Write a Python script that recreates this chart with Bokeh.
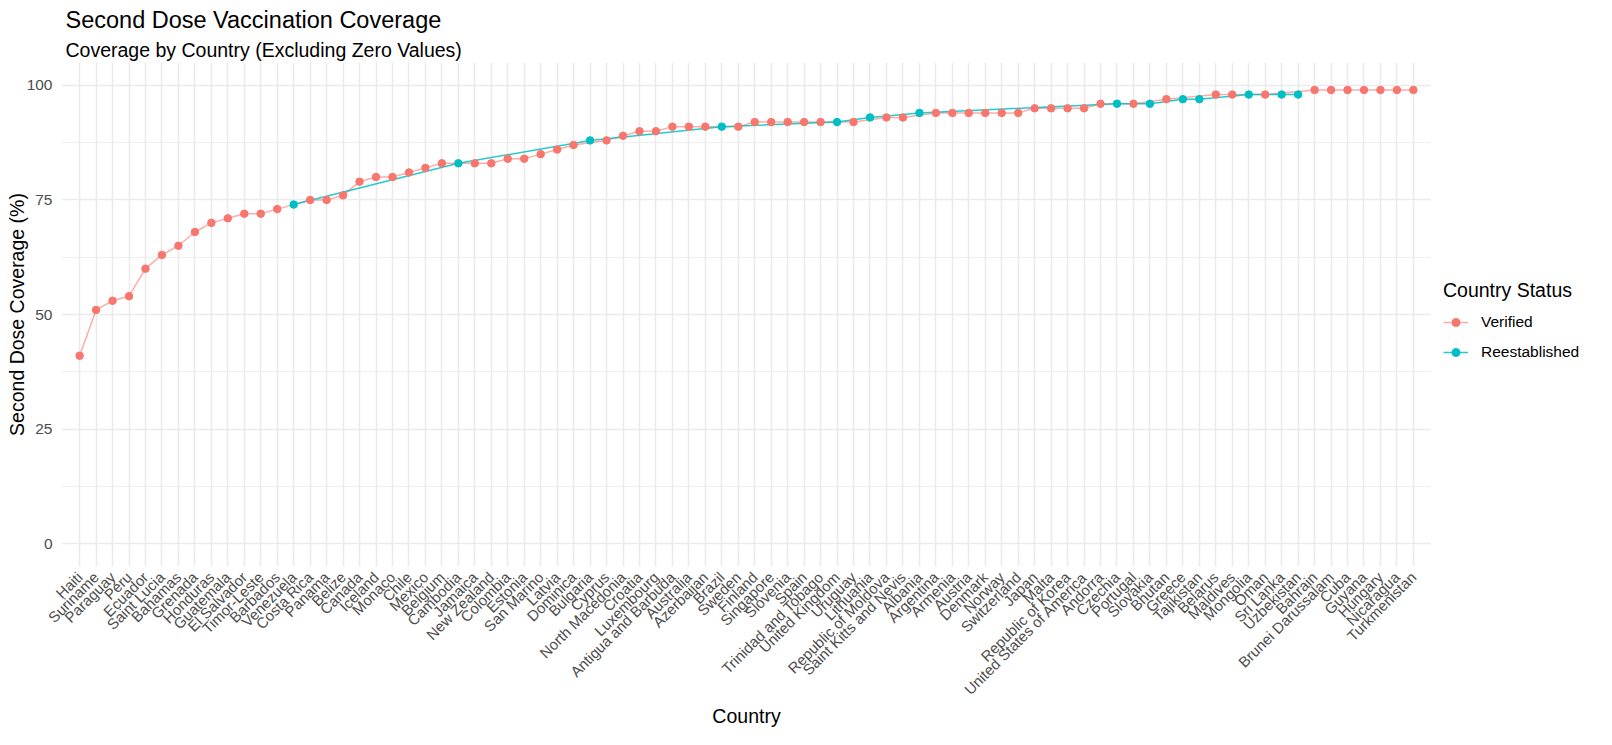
import math
from bokeh.plotting import figure
from bokeh.layouts import row
from bokeh.models import (FactorRange, Range1d, FixedTicker, Legend, LegendItem,
                          Title, ColumnDataSource)
from bokeh.embed import file_html
from bokeh.resources import INLINE

countries = [
    "Haiti", "Suriname", "Paraguay", "Peru", "Ecuador", "Saint Lucia", "Bahamas",
    "Grenada", "Honduras", "Guatemala", "El Salvador", "Timor-Leste", "Barbados",
    "Venezuela", "Costa Rica", "Panama", "Belize", "Canada", "Iceland", "Monaco",
    "Chile", "Mexico", "Belgium", "Cambodia", "Jamaica", "New Zealand", "Colombia",
    "Estonia", "San Marino", "Latvia", "Dominica", "Bulgaria", "Cyprus",
    "North Macedonia", "Croatia", "Luxembourg", "Antigua and Barbuda", "Australia",
    "Azerbaijan", "Brazil", "Sweden", "Finland", "Singapore", "Slovenia", "Spain",
    "Trinidad and Tobago", "United Kingdom", "Uruguay", "Lithuania",
    "Republic of Moldova", "Saint Kitts and Nevis", "Albania", "Argentina",
    "Armenia", "Austria", "Denmark", "Norway", "Switzerland", "Japan", "Malta",
    "Republic of Korea", "United States of America", "Andorra", "Czechia",
    "Portugal", "Slovakia", "Bhutan", "Greece", "Tajikistan", "Belarus",
    "Maldives", "Mongolia", "Oman", "Sri Lanka", "Uzbekistan", "Bahrain",
    "Brunei Darussalam", "Cuba", "Guyana", "Hungary", "Nicaragua", "Turkmenistan",
]

coverage = [
    41, 51, 53, 54, 60, 63, 65,
    68, 70, 71, 72, 72, 73,
    74, 75, 75, 76, 79, 80, 80,
    81, 82, 83, 83, 83, 83, 84,
    84, 85, 86, 87, 88, 88,
    89, 90, 90, 91, 91,
    91, 91, 91, 92, 92, 92, 92,
    92, 92, 92, 93,
    93, 93, 94, 94,
    94, 94, 94, 94, 94, 95, 95,
    95, 95, 96, 96,
    96, 96, 97, 97, 97, 98,
    98, 98, 98, 98, 98, 99,
    99, 99, 99, 99, 99, 99,
]

reestablished_countries = [
    "Venezuela", "Cambodia", "Bulgaria", "Brazil", "United Kingdom", "Lithuania",
    "Albania", "Czechia", "Slovakia", "Greece", "Tajikistan", "Mongolia",
    "Sri Lanka", "Uzbekistan",
]

status_levels = ["Verified", "Reestablished"]
status_colors = ["#F8766D", "#00BFC4"]

status = ["Reestablished" if c in reestablished_countries else "Verified" for c in countries]

FONT = "Liberation Sans"
H = 729

p = figure(
    x_range=FactorRange(factors=countries, range_padding=0.6, range_padding_units="absolute"),
    y_range=Range1d(-5, 105),
    width=1431, height=H,
    output_backend="svg", toolbar_location=None, title=None,
    min_border_left=61, min_border_right=0, min_border_top=62, min_border_bottom=159,
    background_fill_color="white", border_fill_color="white", outline_line_color=None,
)

sub = Title(text="Coverage by Country (Excluding Zero Values)", text_font=FONT,
            text_font_size="19.5px", text_font_style="normal", text_color="black",
            standoff=3.5, align="left", offset=4)
main = Title(text="Second Dose Vaccination Coverage", text_font=FONT,
             text_font_size="23.5px", text_font_style="normal", text_color="black",
             standoff=3, align="left", offset=4)
p.add_layout(sub, "above")
p.add_layout(main, "above")

sources = {}
for lvl in status_levels:
    xs = [c for c, s in zip(countries, status) if s == lvl]
    ys = [v for v, s in zip(coverage, status) if s == lvl]
    sources[lvl] = ColumnDataSource(dict(x=xs, y=ys))

line_alpha = {"Verified": 0.6, "Reestablished": 0.85}
for lvl, col in zip(status_levels, status_colors):
    p.line("x", "y", source=sources[lvl], line_color=col,
           line_width=1.5, line_alpha=line_alpha[lvl])
for lvl, col in zip(status_levels, status_colors):
    p.scatter("x", "y", source=sources[lvl], size=7.5, fill_color=col,
              line_color=col, marker="circle")

# axes
for ax in (p.xaxis, p.yaxis):
    ax.axis_line_color = None
    ax.major_tick_line_color = None
    ax.minor_tick_line_color = None
    ax.major_tick_out = 0
    ax.major_tick_in = 0
    ax.minor_tick_out = 0
    ax.minor_tick_in = 0
    ax.major_label_text_font = FONT
    ax.major_label_text_color = "#4D4D4D"
    ax.axis_label_text_font = FONT
    ax.axis_label_text_font_style = "normal"
    ax.axis_label_text_font_size = "19.5px"
    ax.axis_label_text_color = "black"

p.xaxis.major_label_orientation = math.pi / 4
p.xaxis.major_label_text_font_size = "15px"
p.xaxis.major_label_standoff = 8
p.xaxis.axis_label = "Country"
p.xaxis.axis_label_standoff = -2

p.yaxis.ticker = FixedTicker(ticks=[0, 25, 50, 75, 100], minor_ticks=[12.5, 37.5, 62.5, 87.5])
p.yaxis.major_label_text_font_size = "15.5px"
p.yaxis.major_label_standoff = 9
p.yaxis.axis_label = "Second Dose Coverage (%)"
p.yaxis.axis_label_standoff = -4

p.xgrid.grid_line_color = "#EBEBEB"
p.xgrid.grid_line_width = 1.6
p.ygrid.grid_line_color = "#EBEBEB"
p.ygrid.grid_line_width = 1.6
p.ygrid.minor_grid_line_color = "#EBEBEB"
p.ygrid.minor_grid_line_width = 0.8

# legend panel: a narrow companion figure to the right of the plot.
# Its renderers share the data sources, but its y range lies above the data,
# so only the legend keys are visible there.
lp = figure(width=165, height=H, output_backend="svg", toolbar_location=None,
            title=None, x_range=FactorRange(factors=countries),
            y_range=Range1d(200, 300),
            min_border=0, outline_line_color=None,
            background_fill_color="white", border_fill_color="white")
lp.axis.visible = False
lp.grid.visible = False

items = []
for lvl, col in zip(status_levels, status_colors):
    r_line = lp.line("x", "y", source=sources[lvl], line_color=col, line_width=1.5,
                     line_alpha=line_alpha[lvl])
    r_pt = lp.scatter("x", "y", source=sources[lvl], size=7.5, fill_color=col,
                      line_color=col, marker="circle")
    items.append(LegendItem(label=lvl, renderers=[r_line, r_pt]))

legend = Legend(
    items=items,
    location=(12, 204),
    title="Country Status",
    title_text_font=FONT, title_text_font_size="19.5px", title_text_font_style="normal",
    title_text_color="black", title_standoff=10,
    label_text_font=FONT, label_text_font_size="15.5px", label_text_color="black",
    glyph_width=25, glyph_height=20, label_height=20, label_standoff=13, spacing=10,
    padding=13, margin=0, border_line_color=None, background_fill_alpha=0,
)
lp.add_layout(legend, "center")

layout = row(p, lp, spacing=0)
open("out.html", "w").write(file_html(layout, INLINE))
